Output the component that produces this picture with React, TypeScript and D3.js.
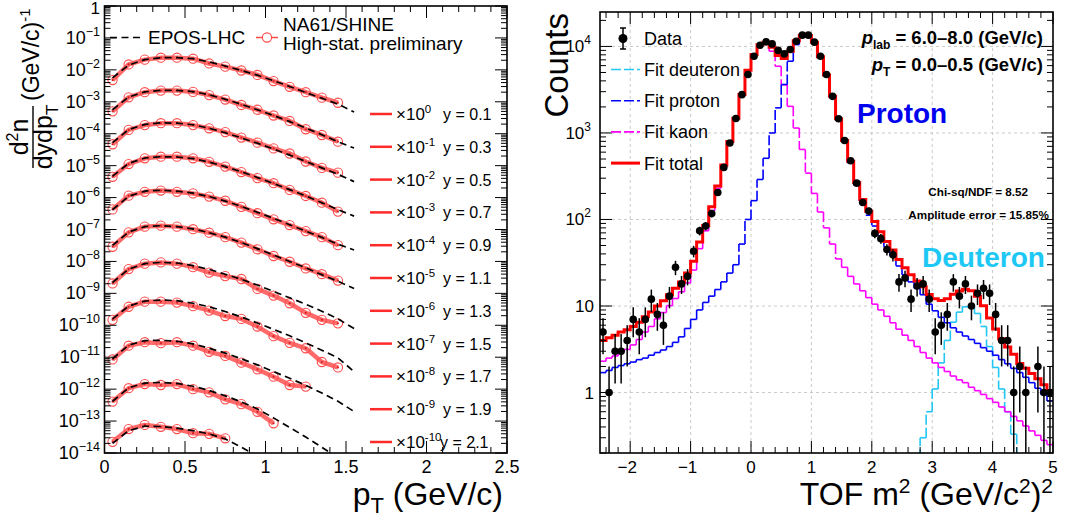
import React from "react";
import * as d3 from "d3";

const FONT = "'Liberation Sans', Arial, Helvetica, sans-serif";

// ---------------- Left panel data ----------------
const rapidityLabels = ["0.1", "0.3", "0.5", "0.7", "0.9", "1.1", "1.3", "1.5", "1.7", "1.9", "2.1"];
const scaleExponents = [0, -1, -2, -3, -4, -5, -6, -7, -8, -9, -10];
const ptCenters = [0.05, 0.15, 0.25, 0.35, 0.45, 0.55, 0.65, 0.75, 0.85, 0.95, 1.05, 1.15, 1.25, 1.35, 1.45, 1.55];

// NA61/SHINE spectra, log10 of d2n/dydpT (unscaled)
const na61Log10 = [
  [-2.32, -1.83, -1.68, -1.62, -1.62, -1.65, -1.80, -1.90, -2.02, -2.16, -2.35, -2.53, -2.70, -2.87, -3.03],
  [-2.30, -1.86, -1.70, -1.65, -1.65, -1.69, -1.79, -1.93, -2.10, -2.25, -2.43, -2.60, -2.86, -3.04, -3.25],
  [-2.33, -1.88, -1.73, -1.67, -1.67, -1.73, -1.83, -1.95, -2.12, -2.28, -2.46, -2.62, -2.87, -3.07, -3.22],
  [-2.35, -1.95, -1.77, -1.72, -1.72, -1.77, -1.88, -2.03, -2.20, -2.39, -2.55, -2.76, -2.95, -3.16, -3.44],
  [-2.37, -1.94, -1.82, -1.78, -1.82, -1.87, -1.97, -2.10, -2.29, -2.49, -2.68, -2.86, -3.05, -3.24, -3.49],
  [-2.54, -2.09, -1.91, -1.88, -1.91, -1.99, -2.10, -2.24, -2.41, -2.62, -2.83, -3.01, -3.22, -3.40, -3.60],
  [-2.69, -2.24, -2.07, -2.03, -2.07, -2.18, -2.35, -2.46, -2.55, -2.86, -3.07, -3.31, -3.61, -3.83, -3.94],
  [-2.83, -2.42, -2.26, -2.26, -2.29, -2.40, -2.54, -2.71, -2.80, -3.04, -3.34, -3.55, -3.72, -4.15, -4.32],
  [-3.07, -2.64, -2.53, -2.56, -2.53, -2.64, -2.83, -2.96, -3.17, -3.38, -3.61, -3.87, -3.92],
  [-3.39, -2.97, -2.84, -2.87, -2.84, -3.00, -3.10, -3.32, -3.47, -3.71, -4.07],
  [-3.65, -3.25, -3.12, -3.18, -3.25, -3.38, -3.40, -3.54],
];

// EPOS-LHC, log10 of d2n/dydpT (unscaled)
const eposLog10 = [
  [-2.25, -1.85, -1.68, -1.62, -1.62, -1.65, -1.75, -1.88, -2.02, -2.17, -2.34, -2.52, -2.71, -2.89, -3.07, -3.32],
  [-2.25, -1.85, -1.69, -1.64, -1.64, -1.68, -1.78, -1.92, -2.08, -2.25, -2.43, -2.62, -2.82, -3.03, -3.25, -3.45],
  [-2.28, -1.87, -1.71, -1.66, -1.67, -1.72, -1.83, -1.97, -2.13, -2.30, -2.48, -2.67, -2.87, -3.07, -3.27, -3.50],
  [-2.33, -1.93, -1.76, -1.72, -1.73, -1.78, -1.89, -2.03, -2.19, -2.37, -2.56, -2.75, -2.95, -3.16, -3.38, -3.58],
  [-2.38, -1.96, -1.80, -1.77, -1.80, -1.86, -1.97, -2.11, -2.28, -2.46, -2.65, -2.85, -3.05, -3.25, -3.46, -3.64],
  [-2.50, -2.08, -1.91, -1.88, -1.91, -1.98, -2.10, -2.24, -2.41, -2.60, -2.80, -3.00, -3.20, -3.42, -3.62, -3.85],
  [-2.66, -2.24, -2.07, -2.03, -2.05, -2.13, -2.25, -2.40, -2.56, -2.74, -2.94, -3.14, -3.34, -3.56, -3.80, -4.10],
  [-2.80, -2.40, -2.24, -2.21, -2.23, -2.31, -2.42, -2.57, -2.74, -2.93, -3.13, -3.33, -3.55, -3.78, -4.02, -4.45],
  [-3.05, -2.62, -2.48, -2.47, -2.50, -2.58, -2.72, -2.87, -3.05, -3.24, -3.45, -3.66, -3.88, -4.12, -4.38, -4.70],
  [-3.38, -2.96, -2.81, -2.79, -2.82, -2.91, -3.04, -3.21, -3.40, -3.62, -3.90, -4.20, -4.50, -4.82, -5.15],
  [-3.70, -3.30, -3.16, -3.17, -3.22, -3.30, -3.40, -3.56, -3.82, -4.10, -4.40],
];

const leftXTicks = [0, 0.5, 1, 1.5, 2, 2.5];
const leftXTickLabels = ["0", "0.5", "1", "1.5", "2", "2.5"];
const leftYDecades = [0, -1, -2, -3, -4, -5, -6, -7, -8, -9, -10, -11, -12, -13, -14];

// ---------------- Right panel data ----------------
const tofBinLow = -2.5;
const tofBinWidth = 0.1;
const tofData = [
  5, 1, 3, 3, 4, 7, 5, 7, 12, 8,
  6, 13, 28, 18, 22, 43, 74, 84, 117, 205,
  400, 765, 1470, 2770, 4730, 7700, 10300, 11300, 10700, 9000,
  8200, 9230, 11500, 13500, 13500, 11200, 7700, 4730, 2650, 1460,
  818, 477, 263, 157, 125, 69, 60, 45, 39, 19,
  21, 12, 17, 18, 12, 5, 6, 8, 19, 13,
  18, 10, 14, 16, 14, 8, 4, 4, 1, 2,
  1, 0, 2, 1, 1,
];
const fitProton = [
  1.7, 1.8, 1.95, 2.05, 2.15, 2.25, 2.4, 2.5, 2.7, 2.9,
  3.1, 3.4, 3.8, 4.4, 5.5, 7, 9, 11, 13, 15.5,
  19, 24, 30, 52, 100, 165, 290, 510, 1000, 1950,
  3630, 6750, 10500, 12800, 13000, 11000, 7500, 4600, 2600, 1420,
  790, 450, 250, 155, 112, 84, 63, 48, 38, 29,
  23, 19, 16, 13.5, 10.5, 8.8, 7.4, 6.4, 5.6, 5.0,
  4.5, 4.1, 3.7, 3.3, 3.0, 2.7, 2.4, 2.15, 1.9, 1.7,
  1.5, 1.3, 1.12, 0.95, 0.8,
];
const fitKaon = [
  2.3, 2.5, 2.65, 2.95, 3.15, 3.55, 4.1, 5.0, 5.8, 7.1,
  8.4, 10.1, 12.2, 14.6, 18.5, 26, 46, 74, 127, 229,
  406, 771, 1450, 2730, 5200, 7900, 10200, 10700, 8800, 5900,
  3600, 2030, 1140, 645, 343, 200, 122, 80, 52, 35,
  28, 22, 18, 15, 12.5, 10.5, 9, 7.6, 6.4, 5.4,
  4.6, 4.0, 3.4, 2.9, 2.5, 2.2, 1.95, 1.75, 1.55, 1.4,
  1.3, 1.15, 1.05, 0.95, 0.85, 0.77, 0.68, 0.6, 0.53, 0.47,
  0.41, 0.36, 0.32, 0.28, 0.25,
];
const fitDeuteron = [
  0, 0, 0, 0, 0, 0, 0, 0, 0, 0,
  0, 0, 0, 0, 0, 0, 0, 0, 0, 0,
  0, 0, 0, 0, 0, 0, 0, 0, 0, 0,
  0, 0, 0, 0, 0, 0, 0, 0, 0, 0,
  0, 0, 0, 0, 0, 0, 0, 0, 0, 0,
  0, 0, 0, 0.3, 0.6, 1.1, 2.2, 4.0, 6.5, 8.5,
  9.8, 9.8, 8.2, 5.8, 3.4, 1.95, 1.1, 0.6, 0.33, 0,
  0, 0, 0, 0, 0,
];
const rightXTicks = [-2, -1, 0, 1, 2, 3, 4, 5];
const rightXTickLabels = ["\u22122", "\u22121", "0", "1", "2", "3", "4", "5"];
const rightYDecades = [0, 1, 2, 3, 4];

const legendEntries = [
  { label: "Fit deuteron", color: "#22c6f2", dashed: true, width: 1.6 },
  { label: "Fit proton", color: "#0000ff", dashed: true, width: 1.6 },
  { label: "Fit kaon", color: "#ff00ff", dashed: true, width: 1.6 },
  { label: "Fit total", color: "#ff0000", dashed: false, width: 3 },
];

function sup(e: number) {
  return e < 0 ? "\u2212" + Math.abs(e) : String(e);
}

export default function App() {
  const W = 1073, H = 521;
  // Left scales
  const xL = d3.scaleLinear().domain([0, 2.5]).range([104.5, 507]);
  const yL = d3.scaleLog().domain([1e-14, 1]).range([453, 6]);
  // Right scales
  const xR = d3.scaleLinear().domain([-2.5, 5]).range([600, 1053]);
  const yR = d3.scaleLog().domain([0.2, 25000]).range([453, 12]);

  const lineL = d3.line<[number, number]>().x((d) => xL(d[0])).y((d) => yL(d[1]));

  // ----- left ticks
  const lMajor = 12, lMinor = 6;
  const leftTicks: JSX.Element[] = [];
  leftYDecades.forEach((e) => {
    const y = yL(Math.pow(10, e));
    leftTicks.push(<line key={"ly" + e} x1={xL(0)} x2={xL(0) + lMajor} y1={y} y2={y} />);
    leftTicks.push(<line key={"lyr" + e} x1={xL(2.5)} x2={xL(2.5) - lMajor} y1={y} y2={y} />);
    if (e < 0) {
      for (let k = 2; k <= 9; k++) {
        const ym = yL(k * Math.pow(10, e));
        leftTicks.push(<line key={"lym" + e + "_" + k} x1={xL(0)} x2={xL(0) + lMinor} y1={ym} y2={ym} />);
        leftTicks.push(<line key={"lymr" + e + "_" + k} x1={xL(2.5)} x2={xL(2.5) - lMinor} y1={ym} y2={ym} />);
      }
    }
  });
  d3.range(0, 26).forEach((i) => {
    const v = i / 10;
    const major = i % 5 === 0;
    const x = xL(v);
    const len = major ? lMajor : lMinor;
    leftTicks.push(<line key={"lx" + i} x1={x} x2={x} y1={453} y2={453 - len} />);
    leftTicks.push(<line key={"lxt" + i} x1={x} x2={x} y1={6} y2={6 + len} />);
  });

  // ----- right ticks
  const rightTicks: JSX.Element[] = [];
  rightYDecades.forEach((e) => {
    const y = yR(Math.pow(10, e));
    rightTicks.push(<line key={"ry" + e} x1={600} x2={600 + lMajor} y1={y} y2={y} />);
    rightTicks.push(<line key={"ryr" + e} x1={1053} x2={1053 - lMajor} y1={y} y2={y} />);
  });
  [-1, 0, 1, 2, 3, 4].forEach((e) => {
    for (let k = 2; k <= 9; k++) {
      const v = k * Math.pow(10, e);
      if (v < 0.2 || v > 25000) continue;
      const ym = yR(v);
      rightTicks.push(<line key={"rym" + e + "_" + k} x1={600} x2={600 + lMinor} y1={ym} y2={ym} />);
      rightTicks.push(<line key={"rymr" + e + "_" + k} x1={1053} x2={1053 - lMinor} y1={ym} y2={ym} />);
    }
  });
  d3.range(-12, 26).forEach((i) => {
    const v = i / 5;
    const major = i % 5 === 0;
    const x = xR(v);
    const len = major ? lMajor : lMinor;
    rightTicks.push(<line key={"rx" + i} x1={x} x2={x} y1={453} y2={453 - len} />);
    rightTicks.push(<line key={"rxt" + i} x1={x} x2={x} y1={12} y2={12 + len} />);
  });

  // ----- right histogram segments
  const edges = d3.range(tofData.length + 1).map((i) => tofBinLow + i * tofBinWidth);
  const floor = 0.12;
  function stepSegs(vals: number[]) {
    const segs: [number, number, number, number][] = [];
    for (let i = 0; i < vals.length; i++) {
      const x0 = xR(edges[i]), x1 = xR(edges[i + 1]);
      const y = yR(Math.max(vals[i], floor));
      segs.push([x0, y, x1, y]);
      if (i < vals.length - 1) {
        const yn = yR(Math.max(vals[i + 1], floor));
        segs.push([x1, y, x1, yn]);
      }
    }
    return segs;
  }
  function stepPath(vals: number[]) {
    const pts: [number, number][] = [];
    vals.forEach((v, i) => {
      pts.push([xR(edges[i]), yR(Math.max(v, floor))]);
      pts.push([xR(edges[i + 1]), yR(Math.max(v, floor))]);
    });
    return d3.line()(pts) || "";
  }
  const fitTotal = fitProton.map((p, i) => p + fitKaon[i] + fitDeuteron[i]);

  const dashedHist = (vals: number[], color: string, key: string) =>
    stepSegs(vals).map((s, i) => (
      <line key={key + i} x1={s[0]} y1={s[1]} x2={s[2]} y2={s[3]} stroke={color} strokeWidth={1.6} strokeDasharray="10,3" />
    ));

  const legendY0 = 114;
  const legendDy = 32.8;

  return (
    <svg width={W} height={H} viewBox={`0 0 ${W} ${H}`} style={{ position: "absolute", left: 0, top: 0, background: "#fff" }} fontFamily={FONT}>
      <defs>
        <clipPath id="clipL"><rect x={xL(0)} y={6} width={xL(2.5) - xL(0)} height={447} /></clipPath>
        <clipPath id="clipR"><rect x={600} y={12} width={453} height={441} /></clipPath>
      </defs>
      <rect x={0} y={0} width={W} height={H} fill="#fff" />

      {/* ================= LEFT PANEL ================= */}
      <g clipPath="url(#clipL)">
        {na61Log10.map((arr, k) => {
          const pts = arr.map((lv, j) => [ptCenters[j], Math.pow(10, lv + scaleExponents[k])] as [number, number]);
          return (
            <g key={"na" + k}>
              <path d={lineL(pts) || ""} fill="none" stroke="#ff6b6b" strokeWidth={4.5} strokeLinejoin="round" />
              {pts.map((p, j) => (
                <g key={j}>
                  <circle cx={xL(p[0])} cy={yL(p[1])} r={4.6} fill="none" stroke="#ff4a4a" strokeWidth={1.1} />
                  <circle cx={xL(p[0])} cy={yL(p[1])} r={1.1} fill="#d42020" />
                </g>
              ))}
            </g>
          );
        })}
        {eposLog10.map((arr, k) => {
          const pts = arr.map((lv, j) => [ptCenters[j], Math.pow(10, lv + scaleExponents[k])] as [number, number]);
          return <path key={"ep" + k} d={lineL(pts) || ""} fill="none" stroke="#000" strokeWidth={1.7} strokeDasharray="7,4.5" />;
        })}
      </g>
      <g stroke="#000" strokeWidth={1}>{leftTicks}</g>
      <rect x={xL(0)} y={6} width={xL(2.5) - xL(0)} height={447} fill="none" stroke="#000" strokeWidth={1.6} />

      {/* left y tick labels */}
      {leftYDecades.map((e) => (
        <text key={"lyl" + e} x={100} y={e === 0 ? 13.5 : yL(Math.pow(10, e)) + 6} textAnchor="end" fontSize={e === 0 ? 17 : 18}>
          {e === 0 ? "1" : (
            <>
              <tspan>10</tspan>
              <tspan dy={-8} fontSize={12.5}>{sup(e)}</tspan>
            </>
          )}
        </text>
      ))}
      {/* left x tick labels */}
      {leftXTicks.map((v, i) => (
        <text key={"lxl" + i} x={xL(v)} y={473} textAnchor="middle" fontSize={18}>{leftXTickLabels[i]}</text>
      ))}

      {/* left axis titles */}
      <text x={503} y={505} textAnchor="end" fontSize={32}>
        p<tspan dy={8} fontSize={22}>T</tspan><tspan dy={-8}> (GeV/c)</tspan>
      </text>
      <g transform="translate(0,137) rotate(-90)" fontSize={25}>
        <text x={0} y={28} textAnchor="middle">d<tspan dy={-10} fontSize={16}>2</tspan><tspan dy={10}>n</tspan></text>
        <line x1={-31} x2={31} y1={33} y2={33} stroke="#000" strokeWidth={1.4} />
        <text x={0} y={52} textAnchor="middle">dydp<tspan dy={6} fontSize={17}>T</tspan></text>
        <text x={36} y={39} fontSize={23}>(GeV/c)<tspan dy={-9} fontSize={15}>-1</tspan></text>
      </g>

      {/* left legend top */}
      <line x1={110} x2={143} y1={37.5} y2={37.5} stroke="#000" strokeWidth={1.7} strokeDasharray="7,4.5" />
      <text x={148} y={44} fontSize={19}>EPOS-LHC</text>
      <line x1={256} x2={278} y1={37.5} y2={37.5} stroke="#ff4a4a" strokeWidth={1.5} />
      <circle cx={267} cy={37.5} r={4.6} fill="#fff" stroke="#ff4a4a" strokeWidth={1.1} />
      <text x={283} y={31} fontSize={19}>NA61/SHINE</text>
      <text x={283} y={50} fontSize={19}>High-stat. preliminary</text>

      {/* left legend rapidity entries */}
      {rapidityLabels.map((lab, k) => {
        const y = legendY0 + k * legendDy;
        return (
          <g key={"lg" + k}>
            <line x1={370} x2={392} y1={y} y2={y} stroke="#ff2a2a" strokeWidth={2.5} />
            <text x={396} y={y + 6} fontSize={17}>
              {"\u00d710"}
              <tspan dy={-7} fontSize={11.5}>{scaleExponents[k] === 0 ? "0" : "-" + Math.abs(scaleExponents[k])}</tspan>
            </text>
            <text x={k === 10 ? 440 : 443} y={y + 6} fontSize={16}>{"y = " + lab}</text>
          </g>
        );
      })}

      {/* ================= RIGHT PANEL ================= */}
      {/* grid */}
      <g stroke="#c4c4c4" strokeWidth={0.9} strokeDasharray="3,3">
        {rightXTicks.filter((v) => v < 5).map((v) => (
          <line key={"gx" + v} x1={xR(v)} x2={xR(v)} y1={12} y2={453} />
        ))}
        {rightYDecades.map((e) => (
          <line key={"gy" + e} x1={600} x2={1053} y1={yR(Math.pow(10, e))} y2={yR(Math.pow(10, e))} />
        ))}
      </g>
      <g clipPath="url(#clipR)">
        {dashedHist(fitDeuteron, "#22c6f2", "d")}
        {dashedHist(fitKaon, "#ff00ff", "k")}
        {dashedHist(fitProton, "#0000ff", "p")}
        <path d={stepPath(fitTotal)} fill="none" stroke="#ff0000" strokeWidth={3} />
        {tofData.map((n, i) => {
          if (n <= 0) return null;
          const cx = xR(tofBinLow + (i + 0.5) * tofBinWidth);
          const err = Math.sqrt(n);
          const lo = Math.max(n - err, 0.1);
          return (
            <g key={"dp" + i}>
              <line x1={cx} x2={cx} y1={yR(lo)} y2={yR(n + err)} stroke="#000" strokeWidth={1.5} />
              <circle cx={cx} cy={yR(n)} r={3.8} fill="#000" />
            </g>
          );
        })}
      </g>
      <g stroke="#000" strokeWidth={1}>{rightTicks}</g>
      <rect x={600} y={12} width={453} height={441} fill="none" stroke="#000" strokeWidth={1.6} />

      {/* right tick labels */}
      {rightYDecades.map((e) => (
        <text key={"ryl" + e} x={e >= 2 ? 591 : 594} y={yR(Math.pow(10, e)) + 6} textAnchor="end" fontSize={17}>
          {e === 0 ? "1" : e === 1 ? "10" : (
            <>
              <tspan>10</tspan>
              <tspan dy={-8} fontSize={12}>{String(e)}</tspan>
            </>
          )}
        </text>
      ))}
      {rightXTicks.map((v, i) => (
        <text key={"rxl" + i} x={xR(v) - (v < 0 ? 3 : 0)} y={473} textAnchor="middle" fontSize={17}>{rightXTickLabels[i]}</text>
      ))}

      {/* right titles */}
      <text x={1053} y={505} textAnchor="end" fontSize={32}>
        TOF m<tspan dy={-12} fontSize={21}>2</tspan><tspan dy={12}> (GeV/c</tspan><tspan dy={-12} fontSize={21}>2</tspan><tspan dy={12}>)</tspan><tspan dy={-12} fontSize={21}>2</tspan>
      </text>
      <text transform="translate(568,13) rotate(-90)" textAnchor="end" fontSize={33}>Counts</text>

      {/* right legend */}
      <line x1={623} x2={623} y1={28} y2={49} stroke="#000" strokeWidth={1.5} />
      <line x1={620} x2={626} y1={28} y2={28} stroke="#000" strokeWidth={1.5} />
      <line x1={620} x2={626} y1={49} y2={49} stroke="#000" strokeWidth={1.5} />
      <circle cx={623} cy={38.5} r={4.5} fill="#000" />
      <text x={644} y={45} fontSize={18}>Data</text>
      {legendEntries.map((en, i) => {
        const y = 69.5 + i * 31.2;
        return (
          <g key={"rl" + i}>
            <line x1={611} x2={640} y1={y} y2={y} stroke={en.color} strokeWidth={en.width} strokeDasharray={en.dashed ? "10,3" : undefined} />
            <text x={644} y={y + 6.5} fontSize={18}>{en.label}</text>
          </g>
        );
      })}

      {/* annotations */}
      <text x={1043} y={44} textAnchor="end" fontSize={18.5} fontWeight="bold">
        <tspan fontStyle="italic">p</tspan><tspan dy={5} fontSize={12}>lab</tspan><tspan dy={-5}>{" = 6.0\u20138.0 (GeV/c)"}</tspan>
      </text>
      <text x={1043} y={71} textAnchor="end" fontSize={18.5} fontWeight="bold">
        <tspan fontStyle="italic">p</tspan><tspan dy={5} fontSize={12}>T</tspan><tspan dy={-5}>{" = 0.0\u20130.5 (GeV/c)"}</tspan>
      </text>
      <text x={857} y={123} fontSize={28} fontWeight="bold" fill="#0000ee">Proton</text>
      <text x={1028} y={196} textAnchor="end" fontSize={11.7} fontWeight="bold">{"Chi-sq/NDF =  8.52"}</text>
      <text x={1049} y={219} textAnchor="end" fontSize={11.7} fontWeight="bold">{"Amplitude error = 15.85%"}</text>
      <text x={922} y={267} fontSize={28} fontWeight="bold" fill="#1ec8f5">Deuteron</text>
    </svg>
  );
}
